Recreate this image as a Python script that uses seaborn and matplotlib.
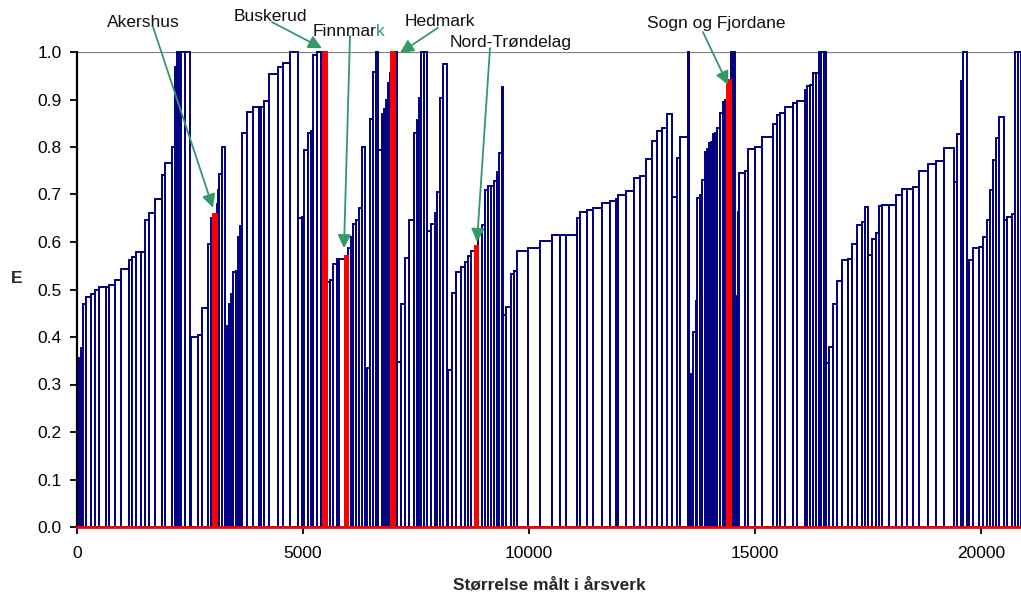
import numpy as np
import pandas as pd
import matplotlib
matplotlib.use("Agg")
import matplotlib.pyplot as plt
import seaborn as sns

sns.set_style("ticks")
plt.rcParams['font.family'] = ['Liberation Sans', 'DejaVu Sans']

# width of each bar = size in årsverk, height = efficiency E
# bars are listed left to right, in the blocks they appear in the chart
w_a = [44, 44, 51, 60, 111, 88, 95, 148, 73, 126, 133, 184, 53, 88, 117, 88, 88, 139, 142, 80, 142, 73, 51, 49, 44, 77, 111]
e_a = [0.35, 0.356, 0.377, 0.47, 0.484, 0.49, 0.498, 0.505, 0.505, 0.51, 0.52, 0.543, 0.562, 0.569, 0.578, 0.578,
       0.646, 0.661, 0.69, 0.741, 0.767, 0.80, 0.968, 1.0, 1.0, 1.0, 1.0]
w_b = [22, 148, 88, 133, 73, 51, 75, 29, 33, 49, 73]
e_b = [0.371, 0.40, 0.405, 0.461, 0.596, 0.65, 0.659, 0.68, 0.71, 0.743, 0.80]
w_c = [38, 58, 44, 44, 60, 51, 38, 38, 124, 133, 133, 38, 73, 111, 186, 124, 148, 184]
e_c = [0.408, 0.423, 0.469, 0.49, 0.537, 0.54, 0.611, 0.633, 0.83, 0.873, 0.884, 0.884, 0.884, 0.896, 0.953,
       0.968, 0.977, 1.0]
w_d = [75, 51, 82, 73, 51, 88, 75, 58, 75]
e_d = [0.65, 0.652, 0.794, 0.83, 0.834, 0.994, 1.0, 1.0, 1.0]
w_e = [73, 73, 75, 58, 126, 73, 60, 51, 60, 73, 53, 73]
e_e = [0.516, 0.52, 0.554, 0.564, 0.565, 0.57, 0.587, 0.61, 0.637, 0.646, 0.672, 0.80]
w_f = [51, 60, 73, 60, 51]
e_f = [0.285, 0.334, 0.86, 0.958, 1.0]
w_g = [75, 51, 44, 38, 51, 22, 88, 51]
e_g = [0.794, 0.87, 0.88, 0.90, 0.934, 0.955, 1.0, 1.0]
w_h = [75, 95, 88, 111, 60, 58, 38, 55, 71]
e_h = [0.347, 0.469, 0.566, 0.646, 0.83, 0.857, 0.903, 1.0, 1.0]
w_i = [88, 95, 51, 60, 73, 75]
e_i = [0.623, 0.637, 0.661, 0.706, 0.903, 0.975]
w_j = [35, 75, 95, 111, 88, 60, 73, 88, 73, 75, 73, 73, 66, 66, 53, 51, 60, 35]
e_j = [0.327, 0.33, 0.493, 0.536, 0.548, 0.558, 0.57, 0.581, 0.592, 0.621, 0.636, 0.709, 0.718, 0.718, 0.729,
       0.747, 0.788, 0.926]
w_k = [53, 117, 66, 73, 230, 272, 259, 184, 133, 250, 60, 161, 133, 186, 184, 133, 51, 170, 177, 133, 133, 126,
       124, 97, 124, 111]
e_k = [0.447, 0.464, 0.533, 0.54, 0.582, 0.587, 0.603, 0.615, 0.615, 0.615, 0.65, 0.663, 0.667, 0.671, 0.683,
       0.687, 0.69, 0.70, 0.708, 0.734, 0.738, 0.775, 0.813, 0.834, 0.839, 0.869]
w_l = [111, 60, 170, 22]
e_l = [0.695, 0.776, 0.822, 1.0]
w_m = [44, 58, 53, 35, 49, 49, 73, 44, 51, 44, 44, 44, 44, 60, 60, 51, 51, 82, 44, 44]
e_m = [0.24, 0.322, 0.411, 0.476, 0.692, 0.70, 0.73, 0.79, 0.795, 0.808, 0.81, 0.827, 0.83, 0.84, 0.871, 0.895,
       0.90, 0.941, 1.0, 1.0]
w_n = [33, 22, 40, 126, 60, 161, 148, 257, 88, 60, 111, 184, 75, 184, 51, 66, 66, 60, 66, 44, 55, 55]
e_n = [0.457, 0.486, 0.664, 0.746, 0.75, 0.796, 0.80, 0.822, 0.848, 0.867, 0.872, 0.885, 0.893, 0.897, 0.92,
       0.928, 0.93, 0.956, 0.956, 1.0, 1.0, 1.0]
w_o = [73, 88, 88, 97, 146, 75, 124, 97, 73, 73, 75, 88, 80, 53, 161, 155, 126, 128, 128, 133, 186, 177, 184,
       221, 73, 75, 58, 75]
e_o = [0.346, 0.38, 0.469, 0.518, 0.562, 0.565, 0.595, 0.636, 0.643, 0.674, 0.573, 0.606, 0.62, 0.675, 0.678,
       0.678, 0.70, 0.712, 0.712, 0.716, 0.75, 0.764, 0.771, 0.797, 0.726, 0.827, 0.94, 1.0]
w_p = [58, 88, 126, 95, 75, 73, 73, 53, 73, 111, 60, 111, 73, 66, 66]
e_p = [0.541, 0.562, 0.587, 0.59, 0.611, 0.646, 0.709, 0.773, 0.819, 0.864, 0.646, 0.653, 0.66, 1.0, 1.0]

blocks = {'A': (w_a, e_a), 'B': (w_b, e_b), 'C': (w_c, e_c), 'D': (w_d, e_d), 'E': (w_e, e_e),
          'F': (w_f, e_f), 'G': (w_g, e_g), 'H': (w_h, e_h), 'I': (w_i, e_i), 'J': (w_j, e_j),
          'K': (w_k, e_k), 'L': (w_l, e_l), 'M': (w_m, e_m), 'N': (w_n, e_n), 'O': (w_o, e_o),
          'P': (w_p, e_p)}

# highlighted fylker: block and position inside the block
highlight = {'Akershus': ('B', 6), 'Buskerud': ('D', 8), 'Finnmark': ('E', 5),
             'Hedmark': ('G', 6), 'Nord-Trøndelag': ('J', 8), 'Sogn og Fjordane': ('M', 17)}

rows = []
for name, (ws, es) in blocks.items():
    for i, (w, e) in enumerate(zip(ws, es)):
        rows.append({'block': name, 'pos': i, 'width': w, 'E': e})
df = pd.DataFrame(rows)
df['left'] = df['width'].cumsum() - df['width']
df['red'] = False
for fylke, (b, p) in highlight.items():
    df.loc[(df['block'] == b) & (df['pos'] == p), 'red'] = True

navy = '#000080'
green = '#339966'

fig = plt.figure(figsize=(10.21, 5.94), dpi=100)
ax = fig.add_axes([77 / 1021, 67 / 594, 944 / 1021, 475 / 594])

ax.axhline(1.0, color='#808080', lw=1.6, zorder=0.5)
blue = df[~df['red']]
ax.bar(blue['left'], blue['E'], width=blue['width'], align='edge', facecolor='white',
       edgecolor=navy, linewidth=1.4, zorder=1, clip_on=False)
red = df[df['red']]
ax.bar(red['left'], red['E'], width=red['width'], align='edge', facecolor='red',
       edgecolor='red', linewidth=1.4, zorder=2, clip_on=False)

ax.set_xlim(0, df['width'].sum())
ax.set_ylim(0, 1.0)
ax.set_yticks(np.arange(0, 1.01, 0.1))
ax.set_yticklabels(['%.1f' % v for v in np.arange(0, 1.01, 0.1)])
ax.set_xticks([0, 5000, 10000, 15000, 20000])
ax.tick_params(axis='both', direction='out', length=5, width=1.3, colors='black', labelsize=12.5)
ax.tick_params(axis='y', pad=6)
ax.tick_params(axis='x', pad=9)

sns.despine(ax=ax, top=True, right=True)
ax.spines['left'].set_color('black')
ax.spines['left'].set_linewidth(1.6)
ax.spines['bottom'].set_color('red')
ax.spines['bottom'].set_linewidth(2.0)
ax.spines['bottom'].set_zorder(3)

ax.set_xlabel('Størrelse målt i årsverk', fontsize=12.5, fontweight='bold', va='center')
ax.xaxis.set_label_coords(0.5, -0.122)
ax.set_ylabel('E', fontsize=12.5, fontweight='bold', rotation=0, va='center', ha='center')
ax.yaxis.set_label_coords(-0.064, 0.524)

txt = dict(fontsize=12.5, color='#111111', va='center')
ax.text(1460, 1.063, 'Akershus', ha='center', **txt)
ax.text(4269, 1.074, 'Buskerud', ha='center', **txt)
ax.text(5220, 1.044, 'Finnmar', ha='left', **txt)
ax.text(6614, 1.044, 'k', ha='left', fontsize=12.5, color=green, va='center')
ax.text(7255, 1.065, 'Hedmark', ha='left', **txt)
ax.text(8251, 1.020, 'Nord-Trøndelag', ha='left', **txt)
ax.text(12608, 1.059, 'Sogn og Fjordane', ha='left', **txt)

arrows = [((1681, 1.053), (3008, 0.672)),
          ((4313, 1.063), (5419, 1.008)),
          ((6039, 1.034), (5906, 0.587)),
          ((7985, 1.051), (7145, 0.998)),
          ((9136, 1.008), (8848, 0.600)),
          ((13847, 1.042), (14400, 0.931))]
for start, tip in arrows:
    ax.annotate('', xy=tip, xytext=start, annotation_clip=False, zorder=5,
                arrowprops=dict(arrowstyle='-|>', color=green, lw=1.3, mutation_scale=20,
                                shrinkA=0, shrinkB=0))

fig.savefig('out.png', dpi=100)
